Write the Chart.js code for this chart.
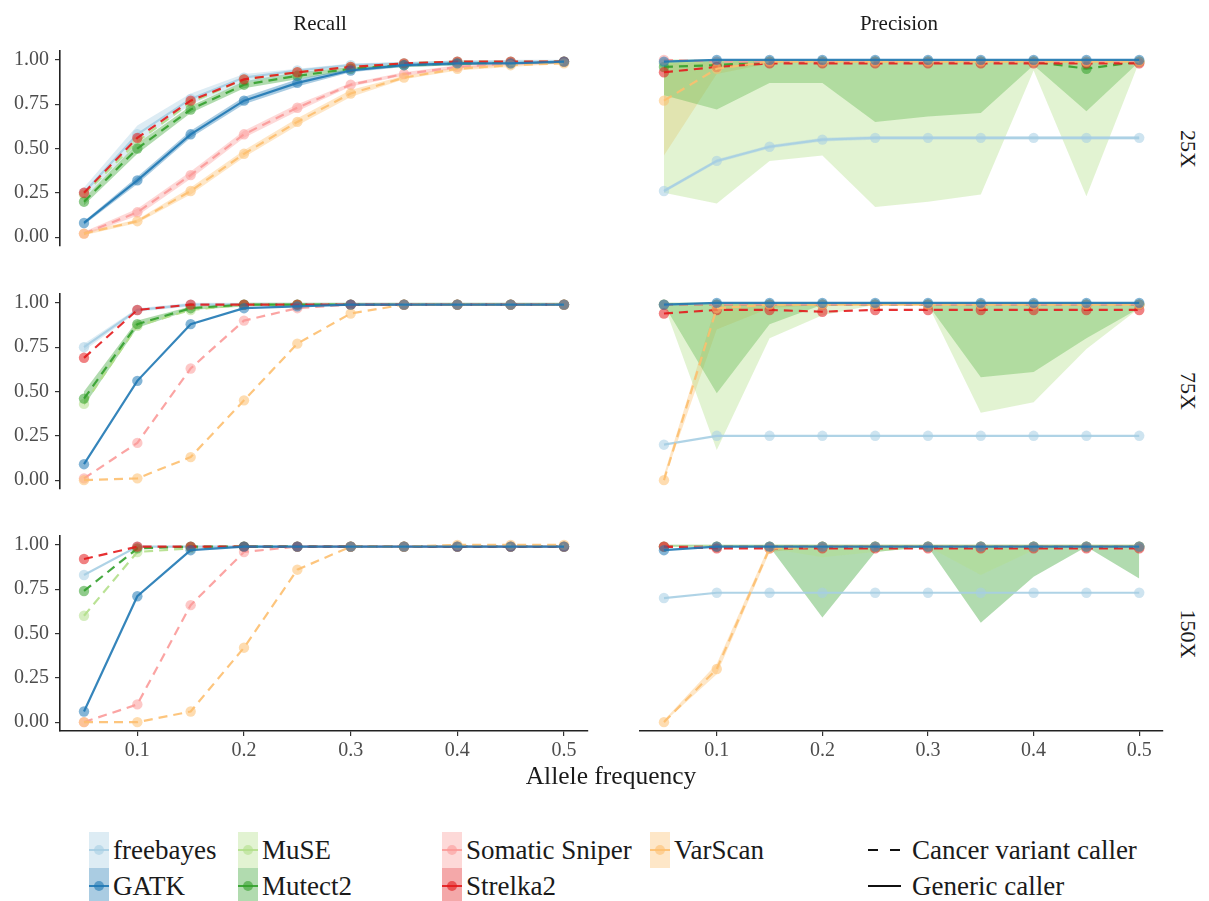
<!DOCTYPE html>
<html>
<head>
<meta charset="utf-8">
<script src="https://cdn.jsdelivr.net/npm/chart.js@4.4.1/dist/chart.umd.min.js"></script>
<style>
  body { margin: 0; background: #fff; width: 1209px; height: 901px; position: relative; overflow: hidden;
         font-family: "Liberation Serif", "DejaVu Serif", serif; color: #1a1a1a; }
  .panel { position: absolute; }
  .txt { position: absolute; white-space: nowrap; line-height: 1; }
  .key { position: absolute; width: 20px; height: 36px; }
  .key .ln { position: absolute; left: 0; right: 0; top: 17px; height: 2px; }
  .key .dot { position: absolute; left: 5px; top: 13px; width: 10px; height: 10px; border-radius: 50%; }
</style>
</head>
<body>

<script>
/* =========================================
   DATA
   Rows of every panel follow `callers`.
========================================= */
const alleleFreq = [0.05, 0.1, 0.15, 0.2, 0.25, 0.3, 0.35, 0.4, 0.45, 0.5];
const callers = ["freebayes", "GATK", "MuSE", "Mutect2", "Somatic Sniper", "Strelka2", "VarScan"];
const callerColors = ["#A6CEE3", "#1F78B4", "#B2DF8A", "#33A02C", "#FB9A99", "#E31A1C", "#FDBF6F"];
const cancerCaller = [false, false, true, true, true, true, true];
const drawRank = [0, 6, 1, 2, 3, 4, 5];   // GATK drawn last, on top
const depths = ["25X", "75X", "150X"];
const metrics = ["Recall", "Precision"];
const yTicks = [0, 0.25, 0.5, 0.75, 1];
const xTicks = [0.1, 0.2, 0.3, 0.4, 0.5];

// ---- Recall ----
const recall25 = [
  [0.25, 0.58, 0.78, 0.90, 0.94, 0.97, 0.98, 0.99, 0.99, 0.99],
  [0.08, 0.32, 0.58, 0.77, 0.87, 0.94, 0.97, 0.98, 0.98, 0.99],
  [0.24, 0.54, 0.76, 0.89, 0.93, 0.96, 0.98, 0.99, 0.99, 0.99],
  [0.20, 0.50, 0.72, 0.86, 0.91, 0.95, 0.97, 0.98, 0.98, 0.99],
  [0.02, 0.14, 0.35, 0.58, 0.73, 0.86, 0.92, 0.96, 0.98, 0.99],
  [0.25, 0.56, 0.77, 0.89, 0.93, 0.96, 0.98, 0.99, 0.99, 0.99],
  [0.02, 0.09, 0.26, 0.47, 0.65, 0.81, 0.90, 0.95, 0.97, 0.98]
];
const recall25Lo = [
  [0.22, 0.53, 0.75, 0.87, 0.92, 0.96, 0.97, 0.98, 0.98, 0.99],
  [0.07, 0.30, 0.56, 0.75, 0.85, 0.93, 0.96, 0.97, 0.98, 0.98],
  null,
  [0.18, 0.47, 0.70, 0.84, 0.89, 0.94, 0.96, 0.97, 0.98, 0.98],
  [0.01, 0.12, 0.33, 0.56, 0.71, 0.85, 0.91, 0.95, 0.97, 0.98],
  null,
  [0.01, 0.08, 0.24, 0.45, 0.63, 0.79, 0.89, 0.94, 0.96, 0.98]
];
const recall25Hi = [
  [0.28, 0.63, 0.81, 0.92, 0.95, 0.98, 0.99, 0.99, 1.00, 1.00],
  [0.09, 0.34, 0.60, 0.79, 0.89, 0.95, 0.98, 0.99, 0.99, 0.99],
  null,
  [0.22, 0.53, 0.74, 0.88, 0.93, 0.96, 0.98, 0.99, 0.99, 0.99],
  [0.03, 0.16, 0.37, 0.60, 0.75, 0.87, 0.93, 0.97, 0.99, 0.99],
  null,
  [0.03, 0.10, 0.28, 0.49, 0.67, 0.83, 0.91, 0.96, 0.98, 0.99]
];

const recall75 = [
  [0.75, 0.96, 0.99, 0.99, 0.99, 0.99, 0.99, 0.99, 0.99, 0.99],
  [0.09, 0.56, 0.88, 0.97, 0.98, 0.99, 0.99, 0.99, 0.99, 0.99],
  [0.43, 0.87, 0.96, 0.99, 0.99, 0.99, 0.99, 0.99, 0.99, 0.99],
  [0.46, 0.88, 0.97, 0.99, 0.99, 0.99, 0.99, 0.99, 0.99, 0.99],
  [0.01, 0.21, 0.63, 0.90, 0.97, 0.99, 0.99, 0.99, 0.99, 0.99],
  [0.69, 0.96, 0.99, 0.99, 0.99, 0.99, 0.99, 0.99, 0.99, 0.99],
  [0.00, 0.01, 0.13, 0.45, 0.77, 0.94, 0.99, 0.99, 0.99, 0.99]
];
const recall75Lo = [
  [0.73, 0.95, 0.98, 0.99, 0.99, 0.99, 0.99, 0.99, 0.99, 0.99],
  null, null,
  [0.42, 0.86, 0.96, 0.98, 0.99, 0.99, 0.99, 0.99, 0.99, 0.99],
  null, null, null
];
const recall75Hi = [
  [0.77, 0.97, 1.00, 1.00, 1.00, 1.00, 1.00, 1.00, 1.00, 1.00],
  null, null,
  [0.50, 0.90, 0.98, 1.00, 1.00, 1.00, 1.00, 1.00, 1.00, 1.00],
  null, null, null
];

const recall150 = [
  [0.83, 0.99, 0.99, 0.99, 0.99, 0.99, 0.99, 0.99, 0.99, 0.99],
  [0.06, 0.71, 0.97, 0.99, 0.99, 0.99, 0.99, 0.99, 0.99, 0.99],
  [0.60, 0.96, 0.98, 0.99, 0.99, 0.99, 0.99, 0.99, 0.99, 0.99],
  [0.74, 0.98, 0.99, 0.99, 0.99, 0.99, 0.99, 0.99, 0.99, 0.99],
  [0.00, 0.10, 0.66, 0.96, 0.99, 0.99, 0.99, 0.99, 0.99, 0.99],
  [0.92, 0.99, 0.99, 0.99, 0.99, 0.99, 0.99, 0.99, 0.99, 0.99],
  [0.00, 0.00, 0.06, 0.42, 0.86, 0.99, 0.99, 1.00, 1.00, 1.00]
];

// ---- Precision ----
const precision25 = [
  [0.26, 0.43, 0.51, 0.55, 0.56, 0.56, 0.56, 0.56, 0.56, 0.56],
  [0.99, 1.00, 1.00, 1.00, 1.00, 1.00, 1.00, 1.00, 1.00, 1.00],
  [0.98, 0.99, 0.99, 0.99, 0.99, 0.99, 0.99, 0.99, 0.99, 0.99],
  [0.96, 0.97, 0.99, 0.99, 0.99, 0.99, 0.99, 0.99, 0.95, 0.99],
  [1.00, 0.99, 0.99, 0.99, 0.99, 0.99, 0.99, 0.99, 0.99, 0.99],
  [0.93, 0.96, 0.98, 0.98, 0.98, 0.98, 0.98, 0.98, 0.98, 0.98],
  [0.77, 0.95, 0.99, 0.99, 0.99, 0.99, 0.99, 0.99, 0.99, 0.99]
];
const precision25Lo = [
  [0.25, 0.42, 0.50, 0.54, 0.55, 0.55, 0.55, 0.55, 0.55, 0.55],
  null,
  [0.25, 0.19, 0.43, 0.46, 0.17, 0.20, 0.24, 0.94, 0.23, 0.99],
  [0.80, 0.72, 0.87, 0.87, 0.65, 0.68, 0.70, 0.97, 0.71, 0.99],
  null, null,
  [0.46, 0.92, 0.98, 0.99, 0.99, 0.99, 0.99, 0.99, 0.99, 0.99]
];
const precision25Hi = [
  [0.27, 0.44, 0.52, 0.56, 0.57, 0.57, 0.57, 0.57, 0.57, 0.57],
  null,
  [1.00, 1.00, 1.00, 1.00, 1.00, 1.00, 1.00, 1.00, 1.00, 1.00],
  [1.00, 1.00, 1.00, 1.00, 1.00, 1.00, 1.00, 1.00, 1.00, 1.00],
  null, null,
  [0.98, 0.99, 1.00, 1.00, 1.00, 1.00, 1.00, 1.00, 1.00, 1.00]
];

const precision75 = [
  [0.20, 0.25, 0.25, 0.25, 0.25, 0.25, 0.25, 0.25, 0.25, 0.25],
  [0.99, 1.00, 1.00, 1.00, 1.00, 1.00, 1.00, 1.00, 1.00, 1.00],
  [0.99, 0.99, 0.99, 0.99, 0.99, 0.99, 0.99, 0.99, 0.99, 0.99],
  [0.99, 0.99, 0.99, 0.99, 0.99, 0.99, 0.99, 0.99, 0.99, 0.99],
  [0.99, 0.99, 0.99, 0.99, 0.99, 0.99, 0.99, 0.99, 0.99, 0.99],
  [0.94, 0.96, 0.96, 0.95, 0.96, 0.96, 0.96, 0.96, 0.96, 0.96],
  [0.00, 0.97, 0.99, 0.99, 0.99, 0.99, 0.99, 0.99, 0.99, 0.99]
];
const precision75Lo = [
  null, null,
  [0.99, 0.17, 0.80, 0.93, 0.99, 0.99, 0.38, 0.44, 0.74, 0.97],
  [0.99, 0.49, 0.88, 0.99, 0.99, 0.99, 0.58, 0.61, 0.80, 0.97],
  null, null,
  [0.00, 0.85, 0.97, 0.99, 0.99, 0.99, 0.99, 0.99, 0.99, 0.99]
];
const precision75Hi = [
  null, null,
  [1.00, 1.00, 1.00, 1.00, 1.00, 1.00, 1.00, 1.00, 1.00, 1.00],
  [1.00, 1.00, 1.00, 1.00, 1.00, 1.00, 1.00, 1.00, 1.00, 1.00],
  null, null,
  [0.03, 1.00, 1.00, 1.00, 1.00, 1.00, 1.00, 1.00, 1.00, 1.00]
];

const precision150 = [
  [0.70, 0.73, 0.73, 0.73, 0.73, 0.73, 0.73, 0.73, 0.73, 0.73],
  [0.97, 0.99, 0.99, 0.99, 0.99, 0.99, 0.99, 0.99, 0.99, 0.99],
  [0.99, 0.99, 0.99, 0.99, 0.99, 0.99, 0.99, 0.99, 0.99, 0.99],
  [0.99, 0.99, 0.99, 0.99, 0.99, 0.99, 0.99, 0.99, 0.99, 0.99],
  [0.99, 0.99, 0.99, 0.99, 0.99, 0.99, 0.99, 0.99, 0.99, 0.99],
  [0.99, 0.98, 0.98, 0.98, 0.98, 0.98, 0.98, 0.98, 0.98, 0.98],
  [0.00, 0.30, 0.98, 0.99, 0.99, 0.99, 0.99, 0.99, 0.99, 0.99]
];
const precision150Lo = [
  null, null,
  [0.99, 0.99, 0.98, 0.93, 0.96, 0.99, 0.83, 0.97, 0.99, 0.99],
  [0.99, 0.99, 0.99, 0.59, 0.96, 0.99, 0.56, 0.82, 0.99, 0.81],
  null, null,
  [0.00, 0.27, 0.96, 0.99, 0.99, 0.99, 0.99, 0.99, 0.99, 0.99]
];
const precision150Hi = [
  null, null,
  [1.00, 1.00, 1.00, 1.00, 1.00, 1.00, 1.00, 1.00, 1.00, 1.00],
  [1.00, 1.00, 1.00, 1.00, 1.00, 1.00, 1.00, 1.00, 1.00, 1.00],
  null, null,
  [0.01, 0.33, 1.00, 1.00, 1.00, 1.00, 1.00, 1.00, 1.00, 1.00]
];

/* =========================================
   LAYOUT / STYLE
========================================= */
const FONT = "'Liberation Serif', 'DejaVu Serif', serif";
const rowTops = [51, 293.5, 536];   // top of each plot area
const plotH = 195;
const colLefts = [0, 635];          // left of each panel box

function withAlpha(hex, a) {
  const n = parseInt(hex.slice(1), 16);
  return `rgba(${n >> 16},${(n >> 8) & 255},${n & 255},${a})`;
}

function panelDatasets(means, lo, hi) {
  const ds = [];
  // ribbons first, drawn underneath
  callers.forEach((c, i) => {
    if (!lo || !lo[i]) return;
    ds.push({ data: alleleFreq.map((x, j) => ({ x, y: lo[i][j] })),
      borderWidth: 0, pointRadius: 0, fill: false, order: 100 });
    ds.push({ data: alleleFreq.map((x, j) => ({ x, y: hi[i][j] })),
      borderWidth: 0, pointRadius: 0, fill: '-1',
      backgroundColor: withAlpha(callerColors[i], 0.38), order: 100 });
  });
  // mean lines with points
  callers.forEach((c, i) => {
    ds.push({
      label: c,
      data: alleleFreq.map((x, j) => ({ x, y: means[i][j] })),
      borderColor: withAlpha(callerColors[i], 0.9),
      borderWidth: 2.2,
      borderDash: cancerCaller[i] ? [9, 6] : [],
      pointRadius: 5.2,
      pointBorderWidth: 0,
      pointBackgroundColor: withAlpha(callerColors[i], 0.55),
      fill: false,
      tension: 0,
      order: 50 - drawRank[i]
    });
  });
  return ds;
}

function makePanel(row, col, means, lo, hi) {
  const showX = row === 2, showY = col === 0;
  const div = document.createElement('div');
  div.className = 'panel';
  const w = col === 0 ? 600 : 540;
  const h = 20 + plotH + (showX ? 42 : 20);
  div.style.left = colLefts[col] + 'px';
  div.style.top = (rowTops[row] - 20) + 'px';
  div.style.width = w + 'px';
  div.style.height = h + 'px';
  const cv = document.createElement('canvas');
  cv.width = w; cv.height = h;
  div.appendChild(cv);
  document.body.appendChild(div);

  new Chart(cv, {
    type: 'line',
    data: { datasets: panelDatasets(means, lo, hi) },
    options: {
      responsive: false,
      animation: false,
      devicePixelRatio: 1,
      layout: { padding: { top: 20, bottom: showX ? 0 : 20, left: 0, right: 12 } },
      plugins: { legend: { display: false }, tooltip: { enabled: false } },
      scales: {
        x: {
          type: 'linear', min: 0.0275, max: 0.5225, display: showX,
          afterBuildTicks: s => { s.ticks = xTicks.map(v => ({ value: v })); },
          afterFit: s => { if (showX) s.height = 42; },
          ticks: { callback: v => v.toFixed(1), font: { family: FONT, size: 20 }, color: '#4d4d4d',
                   padding: 3, maxRotation: 0, autoSkip: false },
          grid: { drawOnChartArea: false, drawTicks: true, tickLength: 5, color: '#333', lineWidth: 1.2 },
          border: { display: true, color: '#222', width: 1.6 }
        },
        y: {
          min: -0.05, max: 1.05, display: showY,
          afterBuildTicks: s => { s.ticks = yTicks.map(v => ({ value: v })); },
          afterFit: s => { if (showY) s.width = 60; },
          ticks: { callback: v => v.toFixed(2), font: { family: FONT, size: 20 }, color: '#4d4d4d',
                   padding: 6, autoSkip: false },
          grid: { drawOnChartArea: false, drawTicks: true, tickLength: 5, color: '#333', lineWidth: 1.2 },
          border: { display: true, color: '#222', width: 1.6 }
        }
      }
    }
  });
}

function addText(str, x, y, size, extra) {
  const el = document.createElement('div');
  el.className = 'txt';
  el.textContent = str;
  el.style.left = x + 'px';
  el.style.top = y + 'px';
  el.style.fontSize = size + 'px';
  el.style.transform = extra || 'translate(-50%, -50%)';
  document.body.appendChild(el);
  return el;
}

/* =========================================
   PANELS
========================================= */
makePanel(0, 0, recall25, recall25Lo, recall25Hi);
makePanel(1, 0, recall75, recall75Lo, recall75Hi);
makePanel(2, 0, recall150, null, null);
makePanel(0, 1, precision25, precision25Lo, precision25Hi);
makePanel(1, 1, precision75, precision75Lo, precision75Hi);
makePanel(2, 1, precision150, precision150Lo, precision150Hi);

/* =========================================
   TEXT: facet titles, strips, axis title
========================================= */
addText(metrics[0], 320, 23, 21);
addText(metrics[1], 899, 23, 21);
depths.forEach((d, r) => addText(d, 1188, rowTops[r] + plotH / 2, 22, 'translate(-50%, -50%) rotate(90deg)'));
addText("Allele frequency", 611, 776, 25.5);

/* =========================================
   LEGEND
========================================= */
const legendCols = [89, 238, 442, 650];
const legendRows = [832, 868];
callers.forEach((c, i) => {
  const col = Math.floor(i / 2), row = i % 2;
  const key = document.createElement('div');
  key.className = 'key';
  key.style.left = legendCols[col] + 'px';
  key.style.top = legendRows[row] + 'px';
  key.style.background = withAlpha(callerColors[i], 0.38);
  key.innerHTML = `<div class="ln" style="background:${withAlpha(callerColors[i], 0.9)}"></div>` +
                  `<div class="dot" style="background:${withAlpha(callerColors[i], 0.6)}"></div>`;
  document.body.appendChild(key);
  addText(c, legendCols[col] + 24, legendRows[row] + 18, 27, 'translate(0, -50%)');
});

// linetype legend
const ltLabels = ["Cancer variant caller", "Generic caller"];
ltLabels.forEach((t, r) => {
  const k = document.createElement('div');
  k.style.position = 'absolute';
  k.style.left = '868px';
  k.style.top = (legendRows[r] + 17) + 'px';
  k.style.width = '33px';
  k.style.height = '2px';
  k.style.background = r === 0
    ? 'repeating-linear-gradient(to right, #111 0 10px, transparent 10px 22px)'
    : '#111';
  document.body.appendChild(k);
  addText(t, 912, legendRows[r] + 18, 27, 'translate(0, -50%)');
});
</script>
</body>
</html>
